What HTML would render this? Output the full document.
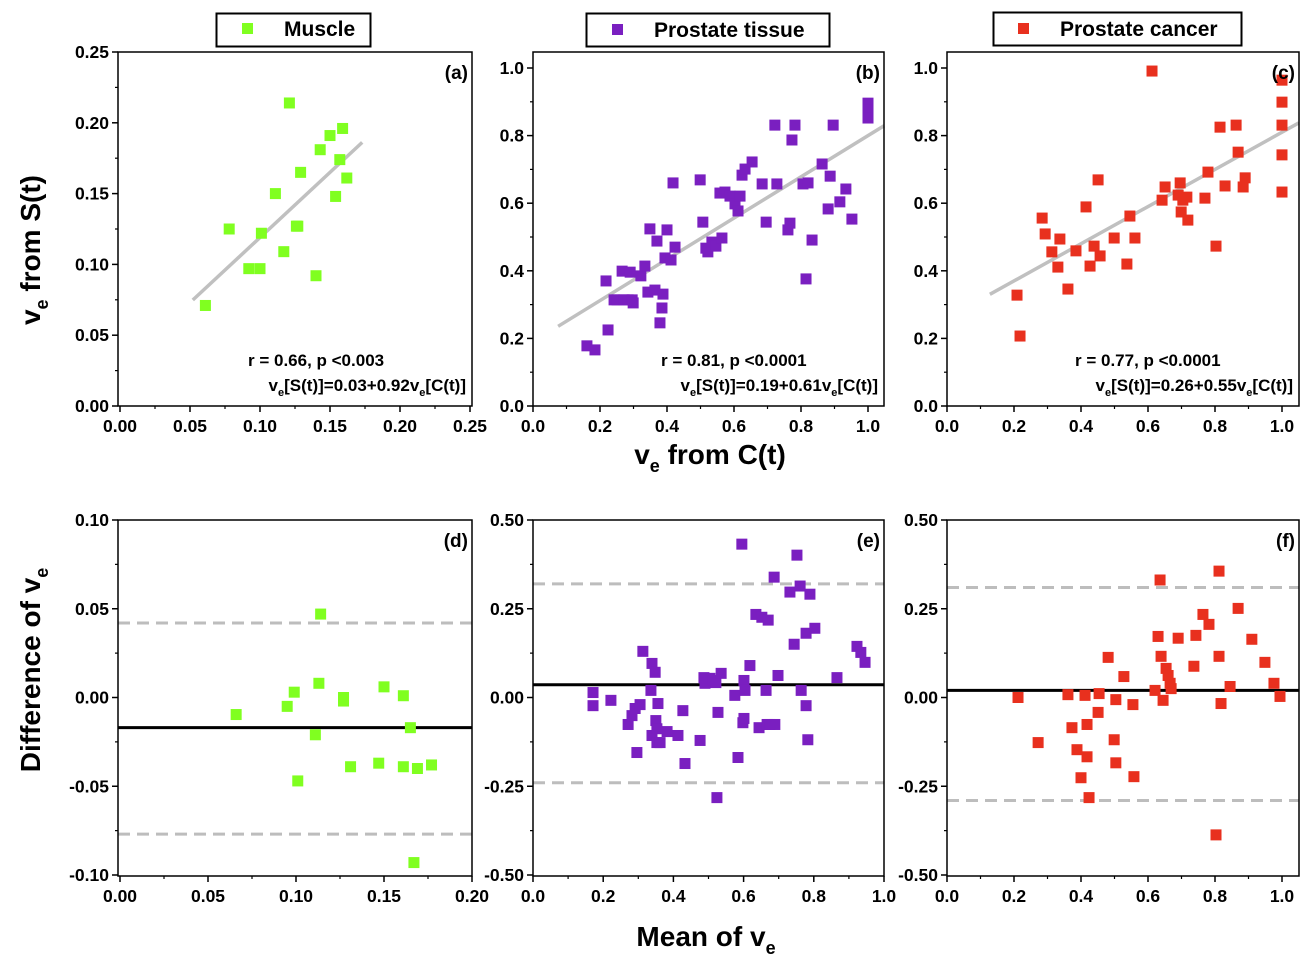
<!DOCTYPE html>
<html><head><meta charset="utf-8">
<style>
body{margin:0;background:#fff;}
svg{display:block;font-family:"Liberation Sans",Arial,sans-serif;font-weight:bold;}
</style></head>
<body>
<svg id="chart" width="1315" height="974" viewBox="0 0 1315 974">
  <g>
    <rect x="216.5" y="13.5" width="154" height="33" fill="#fff" stroke="#000" stroke-width="2"/>
    <rect x="242" y="23" width="11" height="11" fill="#80ff20"/>
    <text x="284" y="36" font-size="21">Muscle</text>
  </g>
  <g>
    <rect x="586.5" y="13.5" width="243" height="33" fill="#fff" stroke="#000" stroke-width="2"/>
    <rect x="612" y="24" width="11" height="11" fill="#7a1fc0"/>
    <text x="654" y="37" font-size="21">Prostate tissue</text>
  </g>
  <g>
    <rect x="993.5" y="12.5" width="248" height="33" fill="#fff" stroke="#000" stroke-width="2"/>
    <rect x="1018" y="23" width="11" height="11" fill="#e8301e"/>
    <text x="1060" y="36" font-size="21">Prostate cancer</text>
  </g>
  <text transform="translate(40,250) rotate(-90)" text-anchor="middle" font-size="28">v<tspan font-size="18" dy="8">e</tspan><tspan dy="-8"> from S(t)</tspan></text>
  <text x="710" y="464" text-anchor="middle" font-size="28">v<tspan font-size="18" dy="8">e</tspan><tspan dy="-8"> from C(t)</tspan></text>
  <text transform="translate(40,670) rotate(-90)" text-anchor="middle" font-size="28">Difference of v<tspan font-size="18" dy="8">e</tspan></text>
  <text x="706" y="946" text-anchor="middle" font-size="28">Mean of v<tspan font-size="18" dy="8">e</tspan></text>
</svg>
<script>
// ---- data ----
const aX=[0.061,0.078,0.092,0.100,0.101,0.111,0.117,0.121,0.126,0.127,0.129,0.140,0.143,0.150,0.154,0.157,0.159,0.162];
const aY=[0.071,0.125,0.097,0.097,0.122,0.150,0.109,0.214,0.127,0.127,0.165,0.092,0.181,0.191,0.148,0.174,0.196,0.161];
const bX=[0.161,0.185,0.218,0.224,0.242,0.251,0.266,0.272,0.284,0.290,0.296,0.299,0.322,0.334,0.343,0.349,0.364,0.370,0.379,0.385,0.388,0.394,0.400,0.412,0.418,0.424,0.499,0.507,0.516,0.522,0.534,0.546,0.558,0.564,0.573,0.588,0.603,0.612,0.618,0.624,0.633,0.654,0.684,0.696,0.722,0.728,0.761,0.767,0.773,0.782,0.806,0.815,0.821,0.833,0.863,0.881,0.887,0.896,0.916,0.934,0.952,1.0,1.0,1.0];
const bY=[0.178,0.166,0.370,0.225,0.314,0.314,0.399,0.314,0.314,0.396,0.314,0.305,0.385,0.414,0.337,0.524,0.343,0.488,0.246,0.290,0.331,0.438,0.521,0.432,0.660,0.470,0.669,0.544,0.467,0.456,0.485,0.473,0.630,0.497,0.633,0.621,0.598,0.577,0.621,0.683,0.701,0.722,0.657,0.544,0.831,0.657,0.521,0.541,0.787,0.831,0.657,0.376,0.660,0.491,0.716,0.583,0.680,0.831,0.604,0.642,0.553,0.896,0.876,0.852];
const cX=[0.209,0.218,0.284,0.293,0.313,0.331,0.337,0.361,0.385,0.415,0.427,0.439,0.451,0.457,0.499,0.537,0.546,0.561,0.612,0.642,0.651,0.690,0.696,0.699,0.704,0.716,0.719,0.770,0.779,0.803,0.815,0.830,0.863,0.869,0.884,0.890,1.0,1.0,1.0,1.0,1.0];
const cY=[0.328,0.207,0.556,0.509,0.456,0.411,0.494,0.346,0.459,0.589,0.414,0.473,0.669,0.444,0.497,0.420,0.562,0.497,0.991,0.609,0.648,0.624,0.660,0.574,0.609,0.618,0.550,0.615,0.692,0.473,0.825,0.651,0.831,0.751,0.648,0.675,0.964,0.899,0.831,0.743,0.633];
const dX=[0.066,0.095,0.099,0.101,0.111,0.113,0.114,0.127,0.127,0.131,0.147,0.150,0.161,0.161,0.165,0.169,0.177,0.167];
const dY=[-0.0096,-0.005,0.003,-0.047,-0.021,0.008,0.047,-0.002,0.000,-0.039,-0.037,0.006,0.001,-0.039,-0.017,-0.040,-0.038,-0.093];
const eX=[0.171,0.171,0.222,0.271,0.282,0.291,0.305,0.296,0.313,0.336,0.339,0.339,0.348,0.350,0.353,0.353,0.356,0.362,0.382,0.413,0.427,0.433,0.476,0.487,0.490,0.504,0.513,0.521,0.524,0.527,0.536,0.575,0.584,0.595,0.598,0.601,0.601,0.604,0.618,0.635,0.644,0.652,0.664,0.667,0.670,0.675,0.687,0.689,0.698,0.732,0.744,0.752,0.761,0.764,0.778,0.778,0.783,0.789,0.803,0.866,0.923,0.934,0.946];
const eY=[0.014,-0.023,-0.008,-0.076,-0.051,-0.031,-0.020,-0.155,0.130,0.020,0.096,-0.107,0.071,-0.065,-0.088,-0.127,-0.017,-0.127,-0.096,-0.107,-0.037,-0.186,-0.121,0.056,0.040,0.054,0.048,0.042,-0.282,-0.042,0.068,0.006,-0.169,0.432,-0.071,-0.059,0.048,0.020,0.090,0.234,-0.085,0.226,0.020,-0.076,0.218,-0.076,0.339,-0.076,0.062,0.297,0.150,0.401,0.314,0.020,0.181,-0.023,-0.119,0.291,0.195,0.056,0.144,0.127,0.099];
const fX=[0.212,0.272,0.361,0.373,0.388,0.400,0.412,0.418,0.418,0.424,0.451,0.454,0.481,0.499,0.504,0.504,0.528,0.555,0.558,0.621,0.630,0.636,0.639,0.645,0.654,0.660,0.666,0.669,0.690,0.737,0.743,0.764,0.782,0.803,0.812,0.812,0.818,0.845,0.869,0.910,0.949,0.976,0.994];
const fY=[0.000,-0.127,0.008,-0.085,-0.147,-0.226,0.006,-0.076,-0.167,-0.282,-0.042,0.011,0.113,-0.119,-0.006,-0.184,0.059,-0.020,-0.223,0.020,0.172,0.331,0.116,-0.008,0.082,0.062,0.040,0.025,0.167,0.088,0.175,0.234,0.206,-0.387,0.116,0.356,-0.017,0.031,0.251,0.164,0.099,0.040,0.003];
const fitA=[0.027,0.92], fitB=[0.19,0.61], fitC=[0.26,0.55];
const limitsD=[-0.017,0.042,-0.077], limitsE=[0.036,0.32,-0.24], limitsF=[0.02,0.31,-0.29];
const ticksSmall=["0.00","0.05","0.10","0.15","0.20","0.25"];
const ticksUnit=["0.0","0.2","0.4","0.6","0.8","1.0"];
const ticksDiffD=["-0.10","-0.05","0.00","0.05","0.10"];
const ticksDiffE=["-0.50","-0.25","0.00","0.25","0.50"];

const NS="http://www.w3.org/2000/svg";
const svgEl=document.getElementById('chart');
function mk(tag,attrs,parent){const e=document.createElementNS(NS,tag);for(const k in attrs)e.setAttribute(k,attrs[k]);(parent||svgEl).appendChild(e);return e;}

function panel(p){
  const g=mk('g',{});
  
  
  const sx=v=>p.x0px+(v-p.xmin)/(p.xmax-p.xmin)*(p.x1px-p.x0px);
  const sy=v=>p.y0px-(v-p.ymin)/(p.ymax-p.ymin)*(p.y0px-p.y1px);
  const nX=p.xt.length-1, nY=p.yt.length-1;
  for(let i=0;i<=nX;i++){
    const v=p.xmin+i*(p.xmax-p.xmin)/nX, x=sx(v);
    mk('line',{x1:x,x2:x,y1:p.bottom,y2:p.bottom+6,stroke:'#000','stroke-width':1.5},g);
    if(i<nX){const xm=sx(v+(p.xmax-p.xmin)/nX/2);mk('line',{x1:xm,x2:xm,y1:p.bottom,y2:p.bottom+3,stroke:'#000','stroke-width':1.2},g);}
    const t=mk('text',{x:x,y:p.bottom+26,'text-anchor':'middle','font-size':17.5},g);
    t.textContent=p.xt[i];
    
    
  }
  for(let i=0;i<=nY;i++){
    const v=p.ymin+i*(p.ymax-p.ymin)/nY, y=sy(v);
    mk('line',{x1:p.left-6,x2:p.left,y1:y,y2:y,stroke:'#000','stroke-width':1.5},g);
    if(i<nY){const ym=sy(v+(p.ymax-p.ymin)/nY/2);mk('line',{x1:p.left-3,x2:p.left,y1:ym,y2:ym,stroke:'#000','stroke-width':1.2},g);}
    const t=mk('text',{x:p.left-9,y:y+6,'text-anchor':'end','font-size':17.5},g);
    t.textContent=p.yt[i];
    
    
  }
  if(p.fit){
    const l=mk('line',{x1:sx(p.fx[0]),y1:sy(p.fit[0]+p.fit[1]*p.fx[0]),x2:sx(p.fx[1]),y2:sy(p.fit[0]+p.fit[1]*p.fx[1]),stroke:'#c0c0c0','stroke-width':3.5},g);
    
    
  }
  if(p.lim){
    [1,2].forEach(k=>{
      const l=mk('line',{x1:p.left,x2:p.right,y1:sy(p.lim[k]),y2:sy(p.lim[k]),stroke:'#bdbdbd','stroke-width':3,'stroke-dasharray':'12 7'},g);
      
      
    });
    const m=mk('line',{x1:p.left,x2:p.right,y1:sy(p.lim[0]),y2:sy(p.lim[0]),stroke:'#000','stroke-width':3},g);
    
    
  }
  for(let i=0;i<p.X.length;i++){
    const r=mk('rect',{x:sx(p.X[i])-5.5,y:sy(p.Y[i])-5.5,width:11,height:11,fill:p.color},g);
    
    
  }
  mk('rect',{x:p.left,y:p.top,width:p.right-p.left,height:p.bottom-p.top,fill:'none',stroke:'#000','stroke-width':1.5},g);
  const lab=mk('text',{x:p.right-4,y:p.top+27,'text-anchor':'end','font-size':19},g);
  lab.textContent=p.label;
  
  
  if(p.ann){
    const t1=mk('text',{x:p.annX,y:366,'font-size':17},g);
    t1.textContent=p.ann[0];
    
    
    const t2=mk('text',{x:p.right-6,y:391,'text-anchor':'end','font-size':17},g);
    t2.innerHTML='v<tspan font-size="11" dy="5">e</tspan><tspan dy="-5">[S(t)]='+p.ann[1]+'v</tspan><tspan font-size="11" dy="5">e</tspan><tspan dy="-5">[C(t)]</tspan>';
    
    
  }
}
panel({name:'panel-a',label:'(a)',X:aX,Y:aY,color:'#80ff20',left:118,right:472,top:52,bottom:406,xmin:0,xmax:0.25,x0px:120,x1px:470,ymin:0,ymax:0.25,y0px:406,y1px:52,xt:ticksSmall,yt:ticksSmall,fit:fitA,fx:[0.052,0.173],ann:['r = 0.66, p <0.003','0.03+0.92'],annX:248});
panel({name:'panel-b',label:'(b)',X:bX,Y:bY,color:'#7a1fc0',left:533,right:884,top:52,bottom:406,xmin:0,xmax:1,x0px:533,x1px:868,ymin:0,ymax:1,y0px:406,y1px:68,xt:ticksUnit,yt:ticksUnit,fit:fitB,fx:[0.075,1.048],ann:['r = 0.81, p <0.0001','0.19+0.61'],annX:661});
panel({name:'panel-c',label:'(c)',X:cX,Y:cY,color:'#e8301e',left:947,right:1299,top:52,bottom:406,xmin:0,xmax:1,x0px:947,x1px:1282,ymin:0,ymax:1,y0px:406,y1px:68,xt:ticksUnit,yt:ticksUnit,fit:fitC,fx:[0.128,1.05],ann:['r = 0.77, p <0.0001','0.26+0.55'],annX:1075});
panel({name:'panel-d',label:'(d)',X:dX,Y:dY,color:'#80ff20',left:118,right:472,top:520,bottom:876,xmin:0,xmax:0.2,x0px:120,x1px:472,ymin:-0.1,ymax:0.1,y0px:875,y1px:520,xt:ticksSmall.slice(0,5),yt:ticksDiffD,lim:limitsD});
panel({name:'panel-e',label:'(e)',X:eX,Y:eY,color:'#7a1fc0',left:533,right:884,top:520,bottom:876,xmin:0,xmax:1,x0px:533,x1px:884,ymin:-0.5,ymax:0.5,y0px:875,y1px:520,xt:ticksUnit,yt:ticksDiffE,lim:limitsE});
panel({name:'panel-f',label:'(f)',X:fX,Y:fY,color:'#e8301e',left:947,right:1299,top:520,bottom:876,xmin:0,xmax:1,x0px:947,x1px:1282,ymin:-0.5,ymax:0.5,y0px:875,y1px:520,xt:ticksUnit,yt:ticksDiffE,lim:limitsF});
</script>
</body></html>
